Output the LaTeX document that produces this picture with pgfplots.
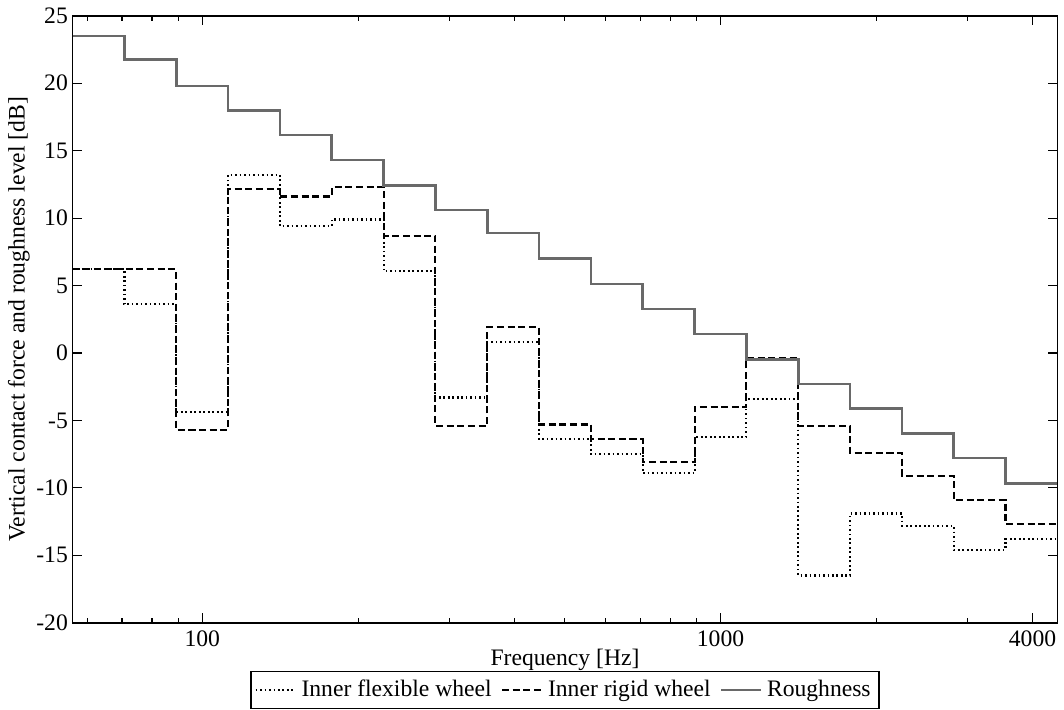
\documentclass[border=0pt]{standalone}
\usepackage{fontspec}
\setmainfont{Liberation Serif}
\usepackage{pgfplots}
\pgfplotsset{compat=1.18}
\definecolor{roughgray}{RGB}{105,105,105}
\begin{document}
\begin{tikzpicture}
\begin{axis}[
  scale only axis,
  width=417pt, height=257pt,
  xmode=log,
  xmin=56.23, xmax=4467,
  ymin=-20, ymax=25,
  ytick={-20,-15,-10,-5,0,5,10,15,20,25},
  yticklabels={-20,-15,-10,-5,0,5,10,15,20,25},
  xtick={100,1000,4000},
  xticklabels={100,1000,4000},
  minor xtick={60,70,80,90,200,300,400,500,600,700,800,900,2000,3000},
  tick align=inside,
  major tick length=4pt,
  minor tick length=2pt,
  tick style={black, line width=0.5pt},
  axis line style={line width=0.7pt},
  every tick label/.append style={font=\normalsize},
  yticklabel style={xshift=1.5pt},
  xlabel={Frequency [Hz]},
  ylabel={Vertical contact force and roughness level [dB]},
  xlabel style={yshift=6pt},
  ylabel style={yshift=-4pt},
  legend columns=3,
  legend style={at={(0.5,-0.08)}, anchor=north, draw=black, line width=0.5pt,
    font=\normalsize, inner sep=1.5pt,
    /tikz/every even column/.append style={column sep=2pt}},
  legend cell align=left,
  legend image post style={line width=0.8pt},
  /pgf/number format/assume math mode=true,
]
\addplot[const plot mark left, black, line width=0.9pt, dash pattern=on 0.7pt off 1.2pt] coordinates {
(56.23,6.2) (70.79,3.6) (89.13,-4.4) (112.2,13.2) (141.3,9.4) (177.8,9.9) (223.9,6.05) (281.8,-3.3) (354.8,0.8) (446.7,-6.4) (562.3,-7.5) (707.9,-8.9) (891.3,-6.2) (1122,-3.4) (1413,-16.5) (1778,-11.9) (2239,-12.8) (2818,-14.6) (3548,-13.8) (4467,-13.8)
};
\addlegendentry{Inner flexible wheel}
\addplot[const plot mark left, black, line width=0.9pt, dash pattern=on 3pt off 1.5pt] coordinates {
(56.23,6.2) (70.79,6.2) (89.13,-5.7) (112.2,12.15) (141.3,11.6) (177.8,12.3) (223.9,8.7) (281.8,-5.4) (354.8,1.9) (446.7,-5.3) (562.3,-6.4) (707.9,-8.1) (891.3,-4.0) (1122,-0.4) (1413,-5.4) (1778,-7.4) (2239,-9.1) (2818,-10.9) (3548,-12.7) (4467,-12.7)
};
\addlegendentry{Inner rigid wheel}
\addplot[const plot mark left, roughgray, line width=1.1pt] coordinates {
(56.23,23.5) (70.79,21.75) (89.13,19.8) (112.2,18.0) (141.3,16.15) (177.8,14.3) (223.9,12.4) (281.8,10.6) (354.8,8.9) (446.7,7.0) (562.3,5.1) (707.9,3.25) (891.3,1.4) (1122,-0.5) (1413,-2.3) (1778,-4.1) (2239,-5.95) (2818,-7.8) (3548,-9.7) (4467,-9.7)
};
\addlegendentry{Roughness}
\end{axis}
\end{tikzpicture}
\end{document}
